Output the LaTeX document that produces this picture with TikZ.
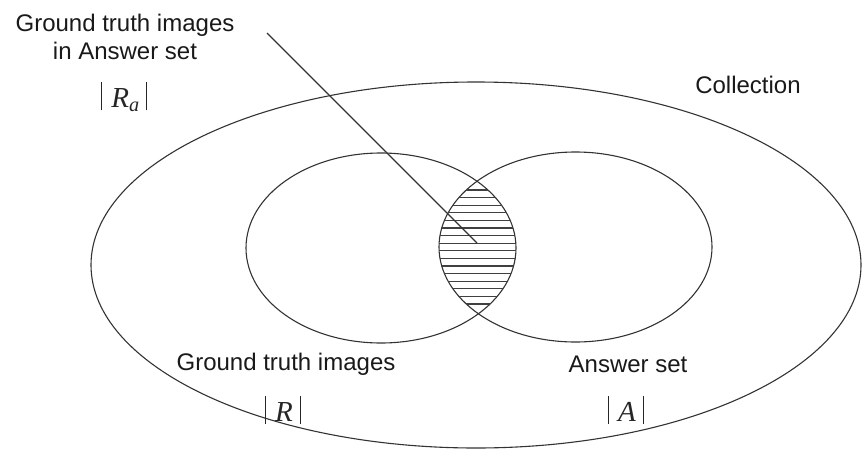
\documentclass[tikz,border=0pt]{standalone}
\usepackage{fontspec}
\setmainfont{Liberation Sans}
\newfontfamily\seriffont{Liberation Serif}
\newcommand{\vbar}{\rule[-2.5pt]{0.9pt}{28pt}}
\begin{document}
\begin{tikzpicture}[x=1pt,y=-1pt,
  outline/.style={draw=black!80, line width=1.1pt},
  hatchline/.style={draw=black!75, line width=1.1pt},
  lbl/.style={inner sep=0pt, font=\fontsize{24}{28}\selectfont, text=black!90},
  mathlbl/.style={inner sep=0pt, font=\seriffont\fontsize{29}{30}\selectfont, text=black!85}]
\useasboundingbox (0,0) rectangle (862,450);
% sets
\draw[outline] (476,265) ellipse [x radius=385pt, y radius=183pt];
\draw[outline] (381,248) ellipse [x radius=135pt, y radius=95pt];
\draw[outline] (575.5,247) ellipse [x radius=136.5pt, y radius=95pt];
% hatched intersection
\begin{scope}
  \clip (381,248) ellipse [x radius=135pt, y radius=95pt];
  \clip (575.5,247) ellipse [x radius=136.5pt, y radius=95pt];
  \foreach \k in {0,...,15}
    \draw[hatchline] (420,{190+7.6*\k}) -- (540,{190+7.6*\k});
\end{scope}
% pointer line
\coordinate (ls) at (267,33);
\coordinate (lc) at (477,243);
\draw[outline] (ls) -- (lc);
% labels
\node[lbl, align=center] (gta) at (125,37) {Ground truth images\\in Answer set};
\node[mathlbl] (ra) at (124,97) {\vbar\kern9pt\textit{R}\textsubscript{\textit{a}}\kern6pt\vbar};
\node[lbl] (coll) at (748,85) {Collection};
\node[lbl] (gt) at (286,364) {Ground truth images};
\node[lbl] (as) at (628,364) {Answer set};
\node[mathlbl] (r) at (283,410) {\vbar\kern9pt\textit{R}\kern7pt\vbar};
\node[mathlbl] (a) at (626,410) {\vbar\kern9pt\textit{A}\kern7pt\vbar};
\end{tikzpicture}
\end{document}
